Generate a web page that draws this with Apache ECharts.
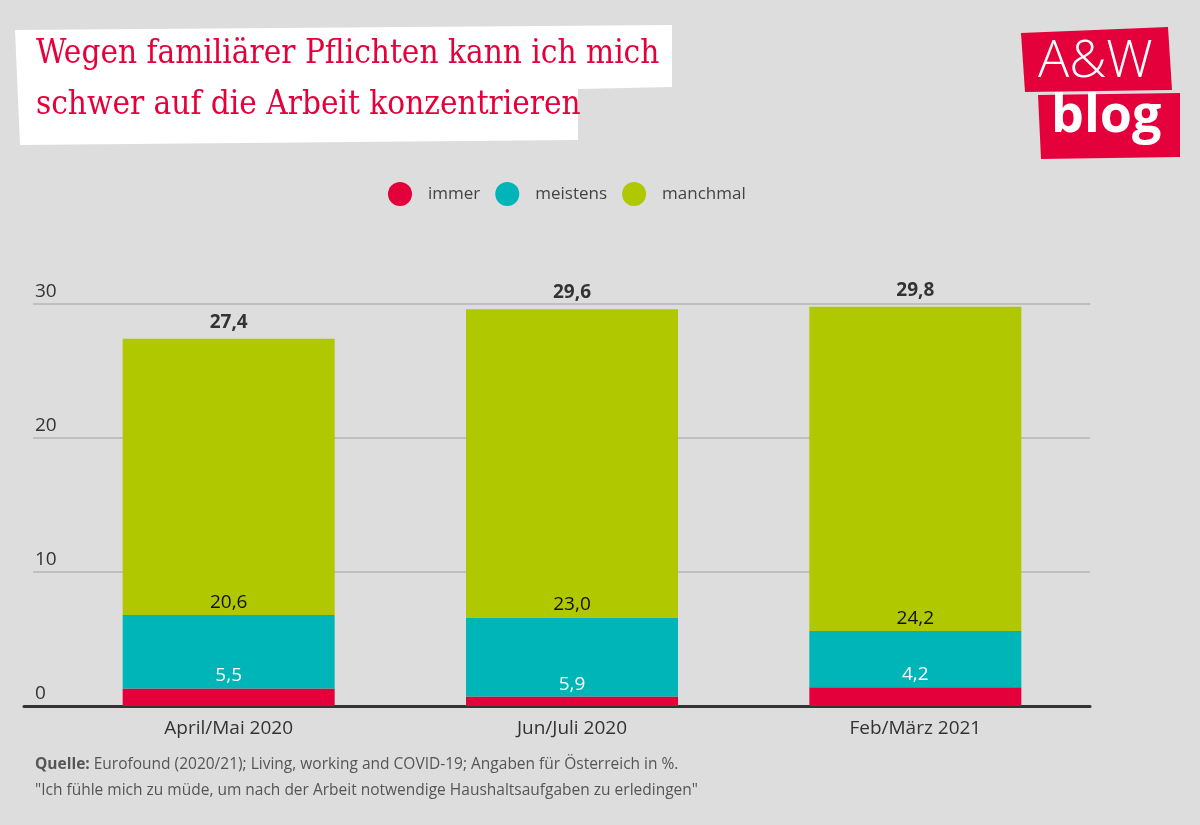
<!DOCTYPE html>
<html><head><meta charset="utf-8">
<script src="https://cdn.jsdelivr.net/npm/echarts@6/dist/echarts.min.js"></script>
<style>html,body{margin:0;padding:0;background:#dddddd;}#c{width:1200px;height:825px;}</style>
</head><body><div id="c"></div>
<script>
const categories = ['April/Mai 2020', 'Jun/Juli 2020', 'Feb/März 2021'];
const immer = [1.3, 0.7, 1.4];
const meistens = [5.5, 5.9, 4.2];
const manchmal = [20.6, 23.0, 24.2];
const totals = [27.4, 29.6, 29.8];
const yTicks = [0, 10, 20, 30];

const fmt = v => v.toFixed(1).replace('.', ',');
const FONT = '"Open Sans", "Noto Sans", sans-serif';
const SERIF = '"DejaVu Serif Condensed", "DejaVu Serif", serif';
const chart = echarts.init(document.getElementById('c'), null, {renderer: 'canvas'});
chart.setOption({
  backgroundColor: '#dddddd',
  animation: false,
  textStyle: {fontFamily: FONT},
  legend: {
    data: ['immer', 'meistens', 'manchmal'],
    top: 177, left: 383,
    icon: 'circle', itemWidth: 24, itemHeight: 24, itemGap: 15,
    textStyle: {fontSize: 17, color: '#444', fontFamily: FONT, padding: [0, 0, 0, 11]}
  },
  grid: [
    {left: 57, right: 113, top: 304, bottom: 119},
    {left: 33, right: 110, top: 304, bottom: 119},
    {left: 24, right: 110, top: 304, bottom: 119}
  ],
  xAxis: [
    {type: 'category', data: categories, gridIndex: 0,
      axisLine: {show: false}, axisTick: {show: false},
      axisLabel: {fontSize: 19, color: '#333', margin: 13, fontFamily: FONT}},
    {type: 'value', gridIndex: 1, show: false},
    {type: 'category', data: [''], gridIndex: 2,
      axisLine: {lineStyle: {color: '#333', width: 3}}, axisTick: {show: false}, axisLabel: {show: false}}
  ],
  yAxis: [
    {type: 'value', min: 0, max: 30, interval: 10, gridIndex: 0,
      axisLine: {show: false}, axisTick: {show: false}, splitLine: {show: false},
      axisLabel: {fontSize: 19, color: '#333', align: 'left', verticalAlign: 'bottom', margin: 22, fontFamily: FONT,
        padding: [0, 0, 3, 0],
        formatter: v => yTicks.includes(v) ? String(v) : ''}},
    {type: 'value', min: 0, max: 30, interval: 10, gridIndex: 1,
      axisLine: {show: false}, axisTick: {show: false}, axisLabel: {show: false},
      splitLine: {lineStyle: {color: '#b4b4b4', width: 1.5}}},
    {type: 'value', min: 0, max: 30, gridIndex: 2, show: false, splitLine: {show: false}}
  ],
  series: [
    {name: 'immer', type: 'bar', stack: 's', data: immer, barWidth: 212, itemStyle: {color: '#e4003a'}, z: 3},
    {name: 'meistens', type: 'bar', stack: 's', data: meistens, itemStyle: {color: '#00b5b8'}, z: 3,
      label: {show: true, position: 'insideBottom', distance: 3, color: '#fff', fontSize: 19, fontFamily: FONT,
        formatter: p => fmt(p.value)}},
    {name: 'manchmal', type: 'bar', stack: 's', data: manchmal, itemStyle: {color: '#afc800'}, z: 3,
      label: {show: true, position: 'insideBottom', distance: 3, color: '#111', fontSize: 19, fontFamily: FONT,
        formatter: p => fmt(p.value)}},
    {name: 'total', type: 'bar', stack: 's', data: totals.map(() => 0), itemStyle: {color: 'transparent'}, z: 3,
      label: {show: true, position: 'top', distance: 7, color: '#333', fontSize: 19, fontWeight: 'bold', fontFamily: FONT,
        formatter: p => fmt(totals[p.dataIndex])}}
  ],
  graphic: [
    {type: 'polygon', shape: {points: [[15,30],[672,25],[672,87],[578,89],[578,140],[20,145]]}, style: {fill: '#fff'}, z: 1},
    {type: 'text', left: 36, top: 38, z: 2, style: {text: 'Wegen familiärer Pflichten kann ich mich', fontFamily: SERIF, fontSize: 33, fill: '#e4003a'}},
    {type: 'text', left: 36, top: 89, z: 2, style: {text: 'schwer auf die Arbeit konzentrieren', fontFamily: SERIF, fontSize: 33, fill: '#e4003a'}},
    {type: 'polygon', shape: {points: [[1021,33],[1168,27],[1172,90],[1025,92]]}, style: {fill: '#e4003a'}, z: 1},
    {type: 'polygon', shape: {points: [[1038,95],[1180,93],[1180,157],[1041,159]]}, style: {fill: '#e4003a'}, z: 1},
    {type: 'text', left: 1038, top: 36, z: 2, style: {text: 'A&W', fontFamily: '"Open Sans", sans-serif', fontSize: 52, fontWeight: 300, fill: '#fff'}},
    {type: 'text', left: 1051, top: 91, z: 2, style: {text: 'blog', fontFamily: '"Open Sans", sans-serif', fontSize: 52, fontWeight: 'bold', fill: '#fff'}},
    {type: 'text', left: 35, top: 757, z: 2, style: {text: '{b|Quelle:} Eurofound (2020/21); Living, working and COVID-19; Angaben für Österreich in %.', fontFamily: FONT, fontSize: 15.5, fill: '#555',
      rich: {b: {fontWeight: 'bold', fontSize: 15.5, fill: '#555', fontFamily: FONT}}}},
    {type: 'text', left: 35, top: 783, z: 2, style: {text: '"Ich fühle mich zu müde, um nach der Arbeit notwendige Haushaltsaufgaben zu erledingen"', fontFamily: FONT, fontSize: 15.5, fill: '#555'}}
  ]
});
</script></body></html>
